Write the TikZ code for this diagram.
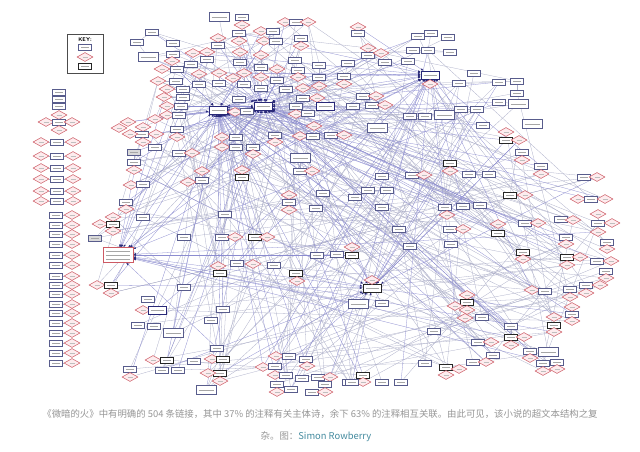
\documentclass[tikz,border=0pt]{standalone}
\usepackage{fontspec}
\newfontfamily\cjk{Noto Sans CJK SC}
\usetikzlibrary{shapes.geometric,arrows.meta}
\pgfdeclarelayer{back}
\pgfdeclarelayer{bg}
\pgfsetlayers{back,bg,main}
\definecolor{boxc}{RGB}{88,92,140}
\definecolor{hubc}{RGB}{40,40,120}
\definecolor{dmc}{RGB}{205,90,100}
\definecolor{dmf}{RGB}{253,236,238}
\definecolor{linkc}{RGB}{172,174,200}
\definecolor{hublinkc}{RGB}{140,140,208}
\definecolor{capc}{RGB}{150,150,150}
\definecolor{namec}{RGB}{70,140,160}
\tikzset{
  fake/.style={path picture={\draw[black!35,line width=0.6pt] ([xshift=2.5pt]path picture bounding box.west) -- ([xshift=-2.5pt]path picture bounding box.east);}},
  bx/.style={rectangle,draw=boxc,fill=white,line width=0.5pt,minimum width=13pt,minimum height=6pt,inner sep=0pt,fake},
  bk/.style={bx,draw=black!85,line width=0.7pt},
  bw/.style={bx,minimum width=20pt,minimum height=9pt},
  gb/.style={bx,fill=black!15},
  hb/.style={bx,draw=hubc,line width=0.8pt,minimum width=18pt,minimum height=8pt},
  rb/.style={rectangle,draw=dmc,fill=white,line width=0.6pt,minimum width=30pt,minimum height=15pt,inner sep=0pt,
    path picture={\foreach \o in {-4,0,4}{\draw[black!35,line width=0.6pt] ([xshift=3pt,yshift=\o pt]path picture bounding box.west) -- ([xshift=-3pt,yshift=\o pt]path picture bounding box.east);}}},
  dm/.style={diamond,draw=dmc,fill=dmf,line width=0.5pt,minimum width=16pt,minimum height=9pt,inner sep=0pt,
    path picture={\draw[black!25,line width=0.5pt] ([xshift=-2.5pt]path picture bounding box.center) -- ([xshift=2.5pt]path picture bounding box.center);}},
  link/.style={draw=linkc,line width=0.28pt},
  hublink/.style={draw=hublinkc,line width=0.28pt,-{Latex[length=2.5pt,width=2pt,color=hubc]}},
  keybox/.style={draw=black!70,line width=0.8pt,fill=white,minimum width=36pt,minimum height=39pt,inner sep=0pt}
}
\begin{document}
\begin{tikzpicture}[x=1pt,y=-1pt]
\begin{pgfonlayer}{back}
\fill[white] (0,0) rectangle (640,451);
\end{pgfonlayer}
\useasboundingbox (0,0) rectangle (640,451);

% hubs
\node[hb] (hA) at (218,110) {};
\node[hb] (hB) at (263,106) {};
\node[hb] (hC) at (430,75) {};
\node[hb,draw=black!85] (hD) at (372,288) {};
\node[rb] (hE) at (118,255) {};

% main cloud
\foreach \ty/\x/\y/\p [count=\i] in {
bw/219/17/0, bx/242/17/0, dm/242/25/1, bx/239/33/0, dm/239/41/1, dm/218/38/0, bx/218/45/1, dm/261/31/0, bx/273/31/1, dm/264/41/0, bx/276/41/1, dm/285/22/0, bx/296/22/1, dm/308/22/1, bx/301/38/0, dm/301/46/1,
bx/152/32/0, bx/137/42/1, bx/173/43/2, bw/148/57/2,
bx/173/54/0, dm/172/61/1, dm/193/53/0, dm/207/52/0, bx/207/59/1, bx/191/64/0, dm/240/52/0, bx/240/62/1, dm/261/55/0, bx/261/67/1, dm/261/77/1, bx/261/88/1, bx/295/60/0, bx/298/70/0, dm/298/77/1, bx/319/65/0, bx/319/77/1, dm/319/86/1, bx/348/63/0, bx/344/76/0, dm/344/84/1,
dm/162/69/0, bx/177/69/1, dm/199/74/0, bx/199/84/1, dm/219/73/0, bx/219/83/1, dm/233/78/0, dm/244/73/0, bx/244/84/1, dm/277/69/0, bx/277/80/1, bx/286/89/0, dm/303/88/0, dm/158/81/0, bx/176/81/1, dm/167/89/0, bx/183/89/1, dm/164/97/0, bx/183/97/1, bx/303/98/0, dm/317/98/1, dm/167/106/0, bx/181/106/1, dm/167/115/0, bx/179/115/1,
bx/239/99/0, dm/235/112/0, bx/247/111/1, bx/296/106/0, dm/296/114/1, bx/308/113/0, hb/325/106/0, bx/353/106/0,
dm/128/122/0, dm/119/128/0, dm/143/127/0, bx/142/134/1, dm/130/134/1, dm/156/134/2, dm/143/142/3, dm/155/119/0, bx/177/129/0, dm/177/137/1,
dm/222/137/0, bx/236/137/1, dm/222/147/0, bx/236/147/1, bx/253/147/0, dm/253/154/1, bx/275/135/0, dm/275/142/1, dm/300/136/0, bx/313/136/1, dm/314/126/1, bx/331/135/0, dm/344/135/1, bx/155/147/0, bx/179/153/0, dm/192/153/1, gb/134/152/0, bx/134/162/1, dm/134/170/1, bw/300/158/0, bx/300/171/1, dm/312/171/1, dm/202/171/0, bx/202/180/1, dm/188/182/0, dm/242/170/0, bk/242/177/1, dm/131/185/0, bx/143/184/1,
dm/358/27/0, bx/358/33/1, dm/368/48/0, bx/368/55/1, dm/381/53/1, bx/385/62/0, bx/418/36/0, bx/431/33/0, bx/448/37/0, bx/413/50/0, bx/428/50/3, bx/450/52/1, bx/408/61/0, dm/430/84/0, bx/474/73/0, bx/459/83/0, bx/499/82/0, bx/517/81/1, bx/517/93/1, bx/499/102/0, bw/518/104/1, bw/532/124/0, bx/483/125/0, bx/461/109/0, bx/477/109/1, bx/410/116/0, bx/425/116/1, bw/444/115/1, bw/377/128/0, dm/506/132/0, bk/506/140/1, dm/519/140/1, bx/522/152/0, dm/522/160/1, bx/541/166/0, dm/541/174/1, bx/584/177/0, dm/597/177/1, bk/450/163/0, dm/450/171/1, bx/469/174/0, bx/489/174/1, bx/412/175/0, dm/424/175/1, bx/382/176/0, bx/368/190/0, bx/387/190/1, bk/510/195/0, dm/525/195/1, dm/578/199/0, bx/591/199/1, dm/605/199/1, bx/363/96/0, dm/376/96/1, bx/372/105/0, dm/385/105/1,
bx/126/202/0, dm/126/209/1, bx/143/217/0, dm/113/217/0, dm/100/224/0, bk/113/224/1, dm/113/231/1, gb/95/238/0, bx/184/237/0, bx/222/237/0, dm/235/237/1, bk/255/237/0, dm/267/237/1, bx/225/214/0, dm/289/195/0, bx/289/202/1, dm/289/210/1, bx/316/208/0, bx/323/193/0, dm/218/266/0, bk/220/273/1, bx/237/263/0, dm/253/264/1, bx/274/265/0, bk/296/273/0, dm/297/281/1, bx/317/255/0, bx/337/254/1, bk/352/255/0, dm/352/247/1, dm/97/285/0, bk/111/285/1, dm/111/293/1, bx/184/287/0, bx/148/299/0, dm/143/310/0, hb/157/310/1, bx/138/325/0, bx/154/326/0, bw/173/333/0, bx/223/309/0, bx/211/320/0, bx/217/348/0, dm/153/360/0, bk/167/360/1, bx/162/370/0, bx/178/370/0, bx/194/361/0, bx/130/369/0, dm/130/377/1, dm/212/359/0, bk/223/359/1, bk/220/373/0, dm/208/373/1, dm/220/381/2, bw/206/390/0, dm/276/356/0, bx/289/356/1, bx/306/359/0, dm/307/366/1, dm/263/367/0, bx/275/366/1, dm/275/375/1, bx/286/375/0, bx/302/378/0, bx/318/377/0, dm/330/377/1, bx/277/384/0, dm/277/392/1, bx/291/389/0, bx/312/392/0, bx/325/384/0, dm/325/392/1, bx/349/382/0, bx/357/303/0,
bx/445/207/0, dm/447/215/1, bx/463/206/0, bx/480/205/1, bx/382/207/0, bx/355/197/0, bx/525/223/0, dm/538/223/1, bx/561/219/0, dm/573/220/1, bx/598/223/0, dm/598/214/1, dm/612/223/2, dm/598/232/3, dm/498/224/0, bk/498/233/1, bx/450/229/0, dm/463/229/1, bx/399/229/0, bx/410/246/0, bx/451/244/0, bx/566/237/0, dm/566/244/1, bk/523/252/0, dm/523/259/1, bk/567/257/0, dm/580/257/1, dm/567/265/2, bx/597/261/0, dm/611/261/1, bx/607/242/0, dm/607/249/1, bx/606/271/0, dm/606/278/1, bx/586/285/0, dm/600/285/1, dm/586/293/2, bx/570/289/0, dm/570/297/1, dm/532/290/0, bx/545/291/1, dm/372/280/0, bw/358/304/0, bx/382/303/0, dm/467/295/0, bk/467/302/1, dm/455/306/1, dm/467/310/2, dm/465/318/0, bx/482/317/1, dm/572/307/0, bx/572/314/1, dm/572/321/1, dm/554/317/0, bk/554/325/1, dm/554/332/1, bx/511/326/0, bk/511/337/1, dm/524/337/1, dm/511/345/2, bx/478/342/0, dm/491/342/1, bx/493/355/0, bx/473/362/0, dm/486/362/1, bx/434/331/0, bx/425/363/0, bk/446/367/0, dm/459/369/1, dm/446/375/2, bx/530/351/0, dm/530/358/1, bw/548/352/0, bx/543/363/0, dm/543/371/1, bx/557/362/0, dm/557/369/1, bk/363/375/0, dm/363/382/1, bx/382/382/0, bx/401/382/0, bx/352/382/0}{
  \node[\ty] (n\i) at (\x,\y) {};
  \ifnum\p>0
    \pgfmathtruncatemacro\j{\i-\p}
    \begin{pgfonlayer}{bg}\draw[link] (n\i) -- (n\j);\end{pgfonlayer}
  \fi
  \xdef\M{\i}
}

% random cross links and hub fans
\pgfmathsetseed{4242}
\begin{pgfonlayer}{bg}
\foreach \k in {1,...,270}{
  \pgfmathrandominteger{\ra}{1}{\M}
  \pgfmathrandominteger{\rb}{1}{\M}
  \ifnum\ra=\rb\else\draw[link] (n\ra) -- (n\rb);\fi
}
\foreach \h/\cnt in {hA/45,hB/55,hC/26,hD/18,hE/16}{
  \foreach \k in {1,...,\cnt}{
    \pgfmathrandominteger{\ra}{1}{\M}
    \draw[hublink] (n\ra) -- (\h);
  }
}
\end{pgfonlayer}

% left column
\foreach \ty/\x/\y/\p [count=\i] in {bx/59/92/0, bx/59/99/1, bx/59/106/1, dm/59/115/1, dm/46/122/0, bx/59/122/1, dm/72/122/1, dm/59/130/2}{
  \node[\ty] (lt\i) at (\x,\y) {};
  \ifnum\p>0
    \pgfmathtruncatemacro\j{\i-\p}
    \begin{pgfonlayer}{bg}\draw[link] (lt\i) -- (lt\j);\end{pgfonlayer}
  \fi
}
\foreach \yy [count=\rr] in {142,156,168,179,191,201}{
  \node[dm] (la\rr) at (41,\yy) {};
  \node[bx] (lb\rr) at (57,\yy) {};
  \node[dm] (lc\rr) at (73,\yy) {};
  \begin{pgfonlayer}{bg}\draw[link] (la\rr) -- (lb\rr) -- (lc\rr);\end{pgfonlayer}
}
\foreach \yy [count=\rr] in {215,225,234,244,255,265,276,285,294,304,313,323,333,343,353,363}{
  \node[bx] (lr\rr) at (56,\yy) {};
  \node[dm] (ld\rr) at (72,\yy) {};
  \begin{pgfonlayer}{bg}\draw[link] (lr\rr) -- (ld\rr);\end{pgfonlayer}
}

% key
\node[keybox] (key) at (85,53.5) {};
\node[font=\sffamily\bfseries\fontsize{5.5}{6}\selectfont,inner sep=0pt] (keyt) at (85,40) {KEY:};
\node[bx] (k1) at (85,47.5) {};
\node[dm] (k2) at (85,57) {};
\node[bk] (k3) at (85,66.5) {};

% caption
\node[font=\cjk\fontsize{9.4}{11}\selectfont,text=capc,inner sep=0pt] (cap1) at (320,414) {《微暗的火》中有明确的 504 条链接，其中 37\% 的注释有关主体诗，余下 63\% 的注释相互关联。由此可见，该小说的超文本结构之复};
\node[font=\cjk\fontsize{9.4}{11}\selectfont,text=capc,inner sep=0pt] (cap2) at (316,437) {杂。图：\textcolor{namec}{Simon Rowberry}};
\end{tikzpicture}
\end{document}
